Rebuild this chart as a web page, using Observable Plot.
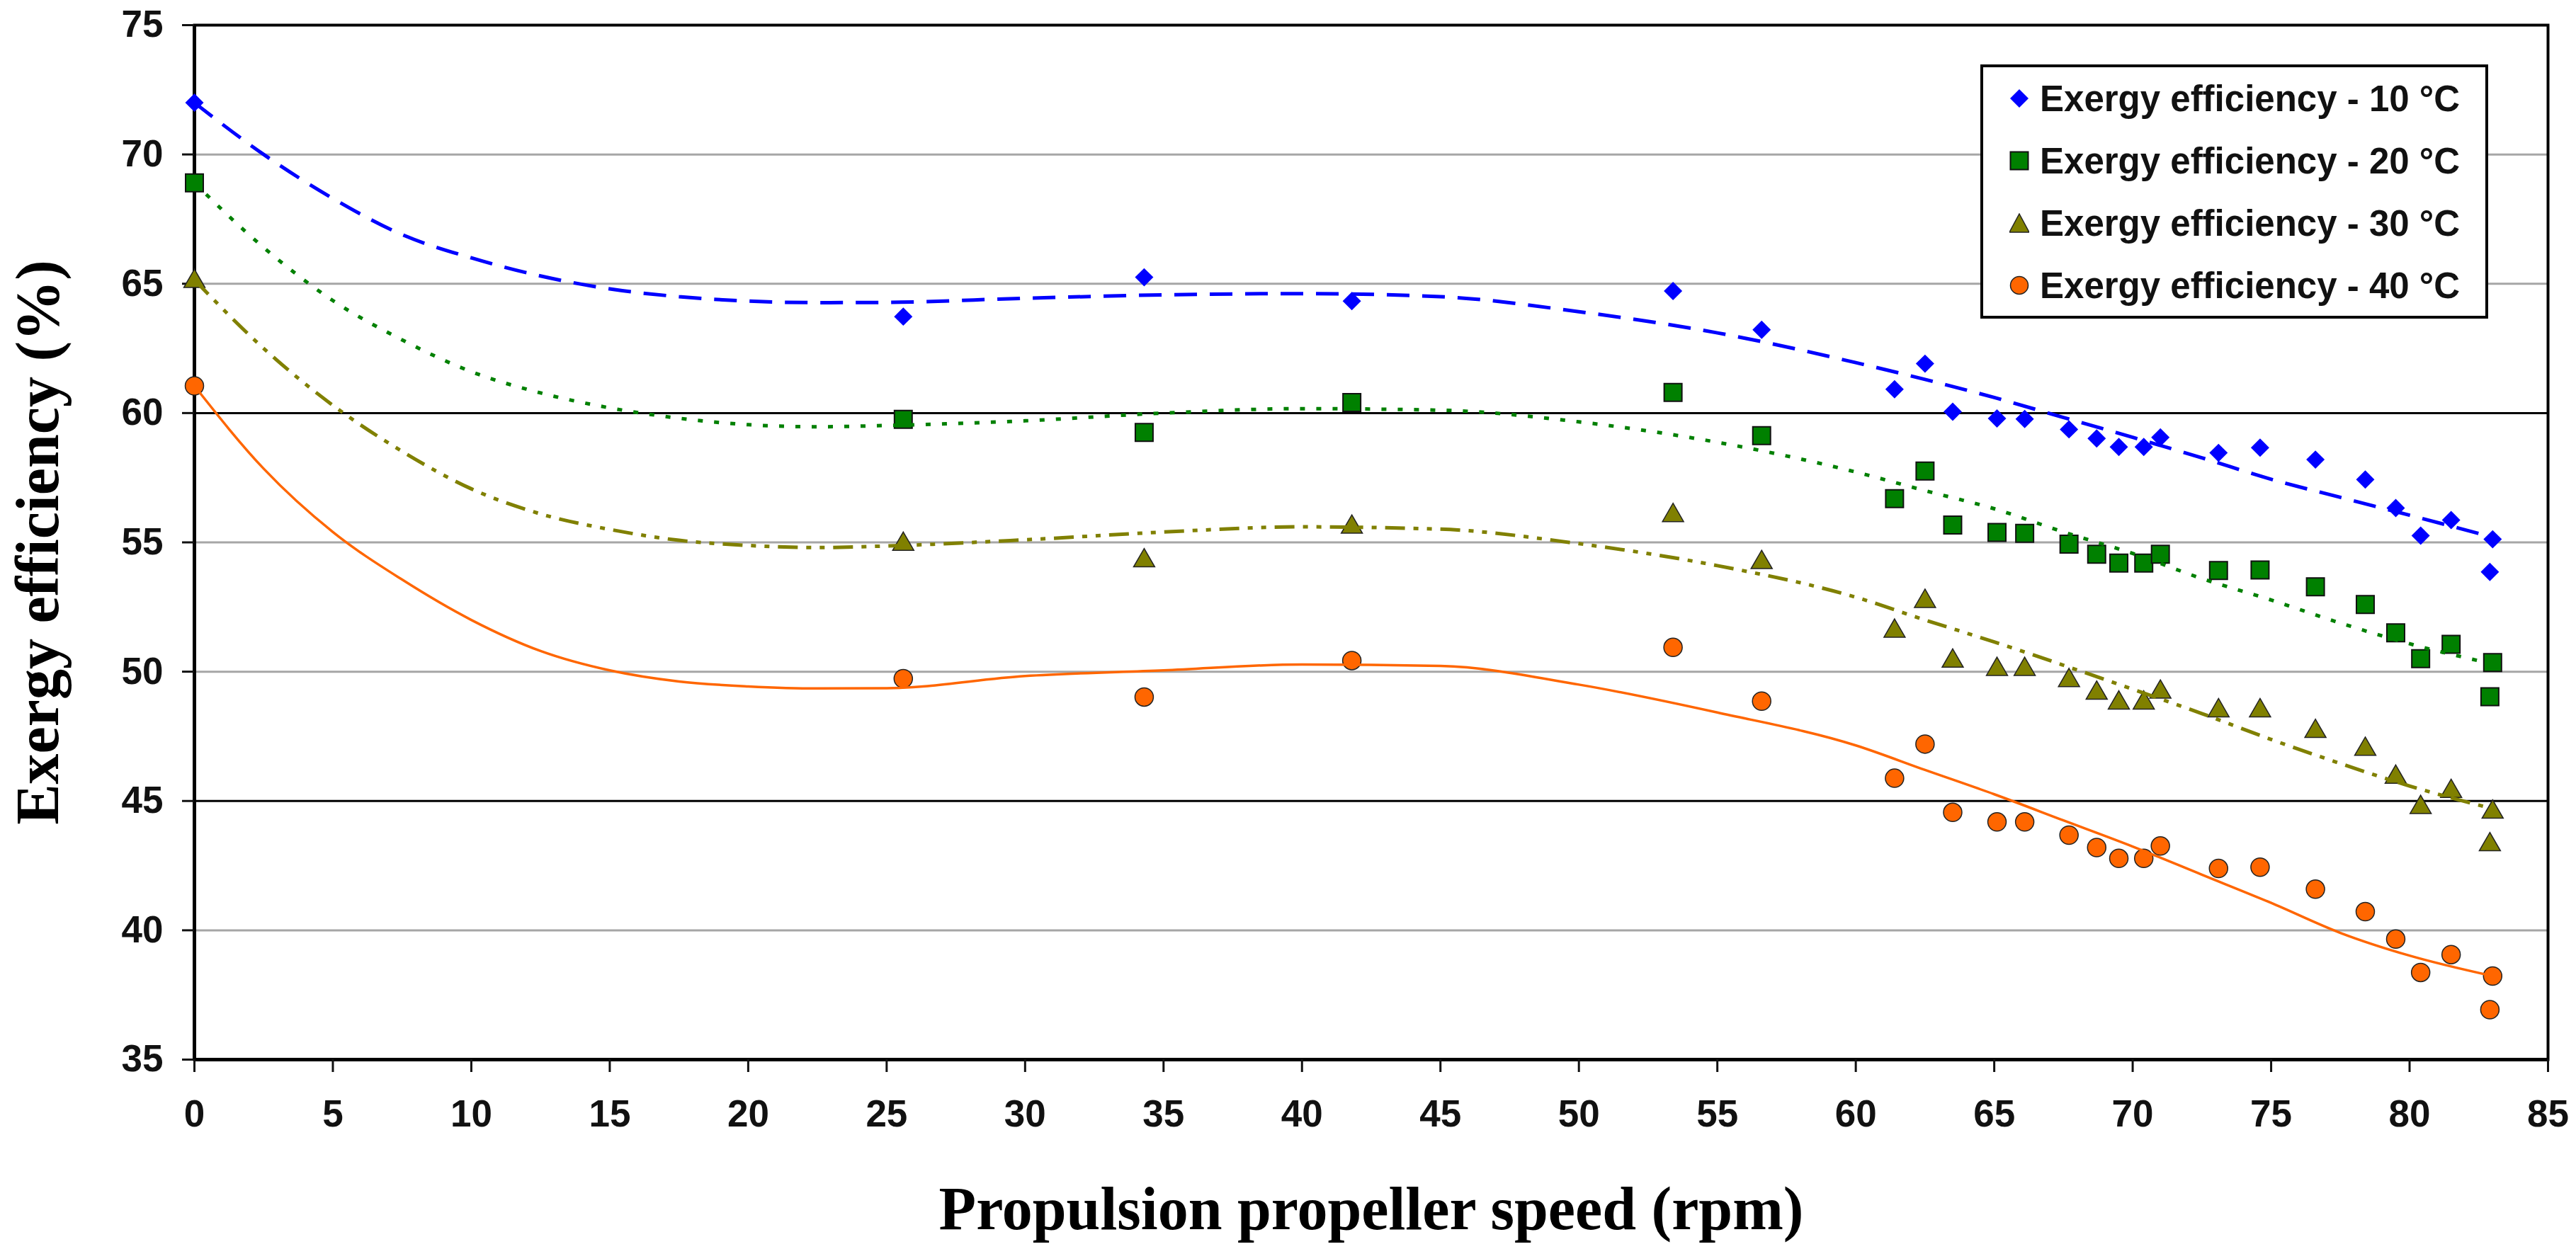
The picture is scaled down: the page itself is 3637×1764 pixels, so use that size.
<!DOCTYPE html>
<html>
<head>
<meta charset="utf-8">
<script src="https://cdn.jsdelivr.net/npm/d3@7"></script>
<script src="https://cdn.jsdelivr.net/npm/@observablehq/plot@0.6"></script>
<style>
  html, body { margin: 0; padding: 0; background: white; }
  #wrap { position: relative; width: 3637px; height: 1764px; }
  #legend {
    position: absolute; left: 2796px; top: 91px; width: 709px; height: 351px;
    border: 4px solid black; background: white;
    font-family: "Liberation Sans", Arial, sans-serif; font-weight: bold; font-size: 51px; color: #111;
  }
  .row { display: flex; align-items: center; height: 88px; }
  .row svg { margin-left: 37px; margin-right: 15px; flex: none; }
</style>
</head>
<body>
<div id="wrap"></div>
<script>
// ---- data ----
const speed = [0, 25.6, 34.3, 41.8, 53.4, 56.6, 61.4, 62.5, 63.5, 65.1, 66.1, 67.7, 68.7, 69.5, 70.4, 71.0, 73.1, 74.6, 76.6, 78.4, 79.5, 80.4, 81.5, 82.9, 83.0];
const eff10 = [72.0, 63.73, 65.25, 64.33, 64.72, 63.22, 60.92, 61.91, 60.05, 59.79, 59.77, 59.37, 59.02, 58.69, 58.69, 59.06, 58.46, 58.66, 58.2, 57.43, 56.33, 55.26, 55.86, 53.86, 55.12];
const eff20 = [68.9, 59.76, 59.25, 60.41, 60.8, 59.13, 56.69, 57.76, 55.67, 55.38, 55.35, 54.93, 54.54, 54.2, 54.2, 54.54, 53.91, 53.93, 53.28, 52.6, 51.5, 50.5, 51.06, 49.03, 50.35];
const eff30 = [65.2, 55.04, 54.4, 55.7, 56.15, 54.33, 51.68, 52.83, 50.52, 50.2, 50.2, 49.77, 49.28, 48.9, 48.9, 49.32, 48.6, 48.6, 47.8, 47.11, 46.03, 44.86, 45.48, 43.42, 44.68];
const eff40 = [61.05, 49.73, 49.02, 50.43, 50.94, 48.86, 45.88, 47.2, 44.56, 44.19, 44.19, 43.68, 43.2, 42.78, 42.78, 43.26, 42.39, 42.44, 41.59, 40.72, 39.66, 38.37, 39.06, 36.93, 38.23];

// trend lines
const trendX = [0, 2.5, 5, 7.5, 10, 12.5, 15, 17.5, 20, 22.5, 25, 30, 35, 40, 45, 50, 55, 60, 62.5, 65, 67.5, 70, 72.5, 75, 77.5, 80, 83];
const trend10 = [72.0, 70.0, 68.3, 66.9, 66.0, 65.3, 64.8, 64.5, 64.33, 64.27, 64.28, 64.44, 64.57, 64.62, 64.5, 63.92, 63.1, 61.95, 61.3, 60.6, 59.83, 59.06, 58.27, 57.44, 56.74, 56.05, 55.2];
const trend20 = [68.9, 66.4, 64.35, 62.83, 61.6, 60.78, 60.2, 59.8, 59.55, 59.47, 59.52, 59.7, 60.0, 60.17, 60.11, 59.66, 58.87, 57.72, 57.0, 56.3, 55.4, 54.57, 53.6, 52.77, 51.88, 51.08, 50.3];
const trend30 = [65.15, 62.5, 60.3, 58.52, 57.07, 56.1, 55.5, 55.08, 54.88, 54.8, 54.86, 55.1, 55.4, 55.6, 55.51, 54.95, 54.1, 52.88, 52.0, 51.15, 50.25, 49.32, 48.38, 47.38, 46.45, 45.58, 44.7];
const trend40 = [61.05, 57.85, 55.4, 53.56, 52.0, 50.8, 50.05, 49.62, 49.43, 49.35, 49.36, 49.83, 50.05, 50.28, 50.22, 49.5, 48.42, 47.15, 46.2, 45.26, 44.25, 43.24, 42.15, 41.06, 39.9, 39.02, 38.23];

const seriesNames = ["Exergy efficiency - 10 °C", "Exergy efficiency - 20 °C", "Exergy efficiency - 30 °C", "Exergy efficiency - 40 °C"];
const xTicks = [0, 5, 10, 15, 20, 25, 30, 35, 40, 45, 50, 55, 60, 65, 70, 75, 80, 85];
const yTicks = [35, 40, 45, 50, 55, 60, 65, 70, 75];
const gridGray = [40, 50, 55, 65, 70];
const gridBlack = [45, 60];
const xTitle = "Propulsion propeller speed (rpm)";
const yTitle = "Exergy efficiency (%)";

// ---- build tables ----
const pts = (arr) => speed.map((s, i) => ({speed: s, eff: arr[i]}));
const trend = (arr) => trendX.map((s, i) => ({speed: s, eff: arr[i]}));

const blue = "#0000ff", green = "#008000", olive = "#808000", orange = "#ff6600";
const serif = "'Liberation Serif', 'Times New Roman', serif";
const sans = "'Liberation Sans', Arial, sans-serif";

const chart = Plot.plot({
  width: 3637,
  height: 1764,
  marginLeft: 274,
  marginRight: 40,
  marginTop: 35,
  marginBottom: 268,
  style: {background: "white", fontFamily: sans, overflow: "visible"},
  x: {domain: [0, 85]},
  y: {domain: [35, 75]},
  marks: [
    Plot.ruleY(gridGray, {stroke: "#a6a6a6", strokeWidth: 3}),
    Plot.ruleY(gridBlack, {stroke: "#000", strokeWidth: 3}),
    Plot.frame({stroke: "#000", strokeWidth: 4}),
    Plot.ruleX([0], {stroke: "#000", strokeWidth: 5}),
    Plot.ruleY([35], {stroke: "#000", strokeWidth: 5}),
    Plot.axisX({ticks: xTicks, tickSize: 18, tickPadding: 39, tickFormat: d => String(d),
      fontSize: 53, fontWeight: "bold", fontFamily: sans, color: "#111", strokeWidth: 3, label: null}),
    Plot.axisY({ticks: yTicks, tickSize: 17, tickPadding: 27, tickFormat: d => String(d),
      fontSize: 53, fontWeight: "bold", fontFamily: sans, color: "#111", strokeWidth: 3, label: null}),
    // markers
    Plot.dot(pts(eff10), {x: "speed", y: "eff", symbol: "diamond2", r: 11.7, fill: blue, stroke: "none"}),
    Plot.dot(pts(eff20), {x: "speed", y: "eff", symbol: "square", r: 14.1, fill: green, stroke: "#111", strokeWidth: 2}),
    Plot.dot(pts(eff30), {x: "speed", y: "eff", symbol: "triangle", r: 11.1, dy: 4, fill: olive, stroke: "#222", strokeWidth: 1.5}),
    Plot.dot(pts(eff40), {x: "speed", y: "eff", symbol: "circle", r: 13, fill: orange, stroke: "#222", strokeWidth: 1.5}),
    // trend lines
    Plot.line(trend(trend10), {x: "speed", y: "eff", curve: "monotone-x", stroke: blue, strokeWidth: 5, strokeDasharray: "32,18", strokeLinecap: "butt"}),
    Plot.line(trend(trend20), {x: "speed", y: "eff", curve: "monotone-x", stroke: green, strokeWidth: 5, strokeDasharray: "7,16", strokeLinecap: "butt"}),
    Plot.line(trend(trend30), {x: "speed", y: "eff", curve: "monotone-x", stroke: olive, strokeWidth: 5, strokeDasharray: "28,12,7,12,7,12", strokeLinecap: "butt"}),
    Plot.line(trend(trend40), {x: "speed", y: "eff", curve: "monotone-x", stroke: orange, strokeWidth: 3.5}),
    // axis titles
    Plot.text([xTitle], {frameAnchor: "bottom", dy: 239, lineAnchor: "bottom", textAnchor: "middle", fontSize: 86, fontWeight: "bold", fontFamily: serif, fill: "#000"}),
    Plot.text([yTitle], {frameAnchor: "left", rotate: -90, dx: -193, lineAnchor: "bottom", textAnchor: "middle", fontSize: 86, fontWeight: "bold", fontFamily: serif, fill: "#000"})
  ]
});

const wrap = document.getElementById("wrap");
wrap.appendChild(chart);

// ---- legend (overlay inside the plot area) ----
const icons = [
  `<svg width="28" height="28" viewBox="-14 -14 28 28"><path d="M0,-13L13,0L0,13L-13,0Z" fill="${blue}"/></svg>`,
  `<svg width="28" height="28" viewBox="-14 -14 28 28"><rect x="-12.5" y="-12.5" width="25" height="25" fill="${green}" stroke="#111" stroke-width="2"/></svg>`,
  `<svg width="28" height="28" viewBox="-14 -14 28 28"><path d="M0,-13L14,13L-14,13Z" fill="${olive}" stroke="#222" stroke-width="1.5"/></svg>`,
  `<svg width="28" height="28" viewBox="-14 -14 28 28"><circle r="12.5" fill="${orange}" stroke="#222" stroke-width="1.5"/></svg>`
];
const legend = document.createElement("div");
legend.id = "legend";
legend.innerHTML = seriesNames.map((n, i) => `<div class="row">${icons[i]}<span>${n}</span></div>`).join("");
wrap.appendChild(legend);
</script>
</body>
</html>
